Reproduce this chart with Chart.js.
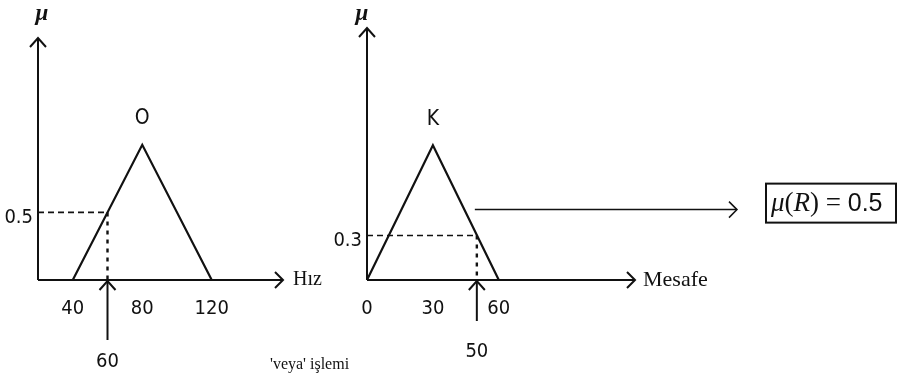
<!DOCTYPE html>
<html lang="tr">
<head>
<meta charset="UTF-8">
<title>Bulanık 'veya' işlemi</title>
<script src="https://cdn.jsdelivr.net/npm/chart.js"></script>
<style>
  body { margin: 0; background: #fff; }
  #wrap { position: relative; width: 897px; height: 385px; }
  #wrap canvas { position: absolute; left: 0; top: 0; }
</style>
</head>
<body>
<div id="wrap">
  <canvas id="hizChart" width="897" height="385"></canvas>
  <canvas id="mesChart" width="897" height="385"></canvas>
</div>
<script>
// Hız (speed) - set O
const hizX = [40, 80, 120];
const hizMu = [0, 1, 0];
const hizTicks = [40, 80, 120];
const hizInput = 60;
const hizLevel = 0.5;
const hizLevelLabel = '0.5';

// Mesafe (distance) - set K
const mesX = [0, 30, 60];
const mesMu = [0, 1, 0];
const mesTicks = [0, 30, 60];
const mesInput = 50;
const mesLevel = 0.33;
const mesLevelLabel = '0.3';

// result of the 'veya' (OR) operation
const resultMu = 0.5;

const ink = '#111';
const digitFamily = "'Liberation Sans Narrow', 'DejaVu Sans Condensed', sans-serif";
const tickFont = { family: digitFamily, size: 20 };

function pts(xs, ys) {
    return xs.map((v, i) => ({ x: v, y: ys[i] }));
}

function seg(ctx, x1, y1, x2, y2) {
    ctx.beginPath();
    ctx.moveTo(x1, y1);
    ctx.lineTo(x2, y2);
    ctx.stroke();
}

// open arrow head, pointing along (dx, dy)
function head(ctx, x, y, dx, dy) {
    ctx.beginPath();
    if (dy === 0) {
        ctx.moveTo(x - 8 * dx, y - 8);
        ctx.lineTo(x, y);
        ctx.lineTo(x - 8 * dx, y + 8);
    } else {
        ctx.moveTo(x - 8, y - 9 * dy);
        ctx.lineTo(x, y);
        ctx.lineTo(x + 8, y - 9 * dy);
    }
    ctx.stroke();
}

const decor = {
    id: 'decor',
    afterDraw(chart, args, o) {
        const { ctx, chartArea: a, scales: { x, y } } = chart;
        ctx.save();
        ctx.strokeStyle = ink;
        ctx.fillStyle = ink;
        ctx.lineWidth = 2;

        // axes with arrows
        seg(ctx, a.left, a.bottom, a.left, a.top);
        head(ctx, a.left, a.top, 0, -1);
        seg(ctx, a.left, a.bottom, a.right, a.bottom);
        head(ctx, a.right, a.bottom, 1, 0);

        ctx.font = "italic bold 23px 'Liberation Serif'";
        ctx.textAlign = 'center';
        ctx.textBaseline = 'middle';
        ctx.fillText('μ', a.left + o.muDx, 14);

        ctx.font = o.nameFont;
        ctx.textAlign = 'left';
        ctx.fillText(o.axisName, a.right + o.nameDx, a.bottom);

        // set name above the peak
        ctx.font = '21px ' + digitFamily;
        ctx.textAlign = 'center';
        ctx.fillText(o.setName, x.getPixelForValue(o.peak), y.getPixelForValue(1) - 26);

        // crisp input arrow
        const ix = x.getPixelForValue(o.input);
        seg(ctx, ix, a.bottom + 1, ix, a.bottom + o.arrowLen);
        head(ctx, ix, a.bottom + 1, 0, -1);
        ctx.font = '20px ' + digitFamily;
        ctx.fillText(String(o.input), ix, a.bottom + o.labelDy);

        if (o.extra) o.extra(chart);
        ctx.restore();
    }
};

function lineSet(data, width, dash) {
    return {
        data: data,
        showLine: true,
        borderColor: ink,
        borderWidth: width,
        borderDash: dash || [],
        pointRadius: 0,
        fill: false,
        tension: 0
    };
}

function makeChart(id, cfg) {
    return new Chart(document.getElementById(id), {
        type: 'scatter',
        data: {
            datasets: [
                lineSet(pts(cfg.xs, cfg.mus), 2.2),
                lineSet([{ x: cfg.xMin, y: cfg.level }, { x: cfg.input, y: cfg.level }], 1.6, [6, 4]),
                lineSet([{ x: cfg.input, y: cfg.level }, { x: cfg.input, y: 0 }], 2.4, [4, 5])
            ]
        },
        options: {
            responsive: false,
            animation: false,
            layout: { padding: cfg.padding },
            plugins: {
                legend: { display: false },
                tooltip: { enabled: false },
                decor: cfg.decor
            },
            scales: {
                x: {
                    type: 'linear',
                    min: cfg.xMin,
                    max: cfg.xMax,
                    grid: { display: false, drawTicks: false },
                    border: { display: false },
                    afterBuildTicks: s => { s.ticks = cfg.ticks.map(v => ({ value: v })); },
                    afterFit: s => { s.height = 40; },
                    ticks: { font: tickFont, color: ink, padding: 17, maxRotation: 0, autoSkip: false }
                },
                y: {
                    type: 'linear',
                    min: 0,
                    max: cfg.yMax,
                    grid: { display: false, drawTicks: false },
                    border: { display: false },
                    afterBuildTicks: s => { s.ticks = [{ value: cfg.level }]; },
                    afterFit: s => { s.width = cfg.yWidth; },
                    ticks: {
                        font: tickFont, color: ink, padding: 5, labelOffset: 5,
                        callback: () => cfg.levelLabel
                    }
                }
            }
        },
        plugins: [decor]
    });
}

makeChart('hizChart', {
    xs: hizX, mus: hizMu, ticks: hizTicks, input: hizInput, level: hizLevel, levelLabel: hizLevelLabel,
    xMin: 20, xMax: 161, yMax: 1.79, yWidth: 38,
    padding: { left: 0, right: 614, top: 38, bottom: 65 },
    decor: {
        axisName: 'Hız', nameDx: 10, nameFont: "20px 'Liberation Serif'", muDx: 4,
        setName: 'O', peak: hizX[1], input: hizInput, arrowLen: 60, labelDy: 82,
        extra: chart => {
            const ctx = chart.ctx, a = chart.chartArea;
            ctx.font = "16px 'Liberation Serif'";
            ctx.textAlign = 'left';
            ctx.fillText("'veya' işlemi", a.right - 13, a.bottom + 85);
        }
    }
});

makeChart('mesChart', {
    xs: mesX, mus: mesMu, ticks: mesTicks, input: mesInput, level: mesLevel, levelLabel: mesLevelLabel,
    xMin: 0, xMax: 122, yMax: 1.87, yWidth: 37,
    padding: { left: 330, right: 262, top: 28, bottom: 65 },
    decor: {
        axisName: 'Mesafe', nameDx: 8, nameFont: "22px 'Liberation Serif'", muDx: -5,
        setName: 'K', peak: mesX[1], input: mesInput, arrowLen: 41, labelDy: 72,
        extra: chart => {
            const ctx = chart.ctx, a = chart.chartArea;
            const yy = chart.scales.y.getPixelForValue(resultMu) - 3;
            const x0 = chart.scales.x.getPixelForValue(mesInput) - 2;
            const x1 = a.right + 102;
            ctx.lineWidth = 1.5;
            seg(ctx, x0, yy, x1, yy);
            head(ctx, x1, yy, 1, 0);
            // result box
            const bx = x1 + 29, by = yy - 26, bw = 130, bh = 39;
            ctx.lineWidth = 2;
            ctx.strokeRect(bx, by, bw, bh);
            const cy = by + bh / 2 + 1;
            let cx = bx + 5;
            ctx.textAlign = 'left';
            const parts = [
                ['μ', "italic 27px 'Liberation Serif'"],
                ['(', "27px 'Liberation Serif'"],
                ['R', "italic 27px 'Liberation Serif'"],
                [') = ', "27px 'Liberation Serif'"],
                [String(resultMu), "25px 'Liberation Sans'"]
            ];
            parts.forEach(([t, f]) => {
                ctx.font = f;
                ctx.fillText(t, cx, cy);
                cx += ctx.measureText(t).width;
            });
        }
    }
});
</script>
</body>
</html>
